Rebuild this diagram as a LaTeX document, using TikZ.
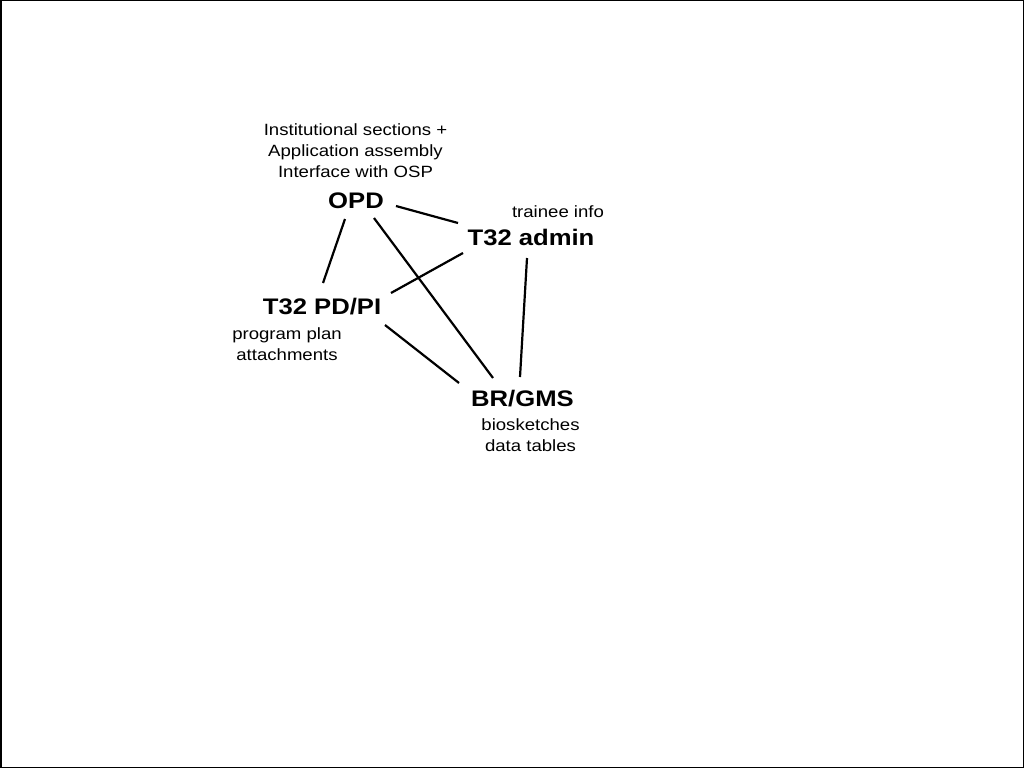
\documentclass[tikz,border=0pt]{standalone}
\usepackage{fontspec}
\setmainfont{Liberation Sans}[FakeStretch=1.14]
\usetikzlibrary{calc,positioning}

\begin{document}
\begin{tikzpicture}[x=1pt,y=-1pt,
  role/.style={anchor=base, inner sep=0pt, font=\fontsize{22.5}{27}\selectfont\bfseries},
  duty/.style={anchor=base, inner sep=0pt, align=center, font=\fontsize{16.3}{21}\selectfont},
  link/.style={line width=2.2pt}
]
  \useasboundingbox (0,0) rectangle (1024,768);
  \draw [line width=1.5pt] (0.75,0.75) rectangle (1023.25,767.25);

  % people / offices
  \node [role] at(356,208.3) (opd) {OPD};
  \node [role] at(531,245.3) (admin) {T32 admin};
  \node [role] at(322,314) (pdpi) {T32 PD/PI};
  \node [role] at(522.5,406.7) (brgms) {BR/GMS};

  % what each one does (base = last line)
  \node [duty] at(355.5,177) (inst) {Institutional sections +\\Application assembly\\Interface with OSP};
  \node [duty] at(558,217.7) (trainee) {trainee info};
  \node [duty] at(287,360.5) (plan) {program plan\\attachments};
  \node [duty] at(530.5,451) (sketches) {biosketches\\data tables};

  \draw [link] ($(opd.base) + (40,-2.3)$) -- ($(admin.base) + (-73,-22.3)$);
  \draw [link] ($(opd.base) + (-11,10.7)$) -- ($(pdpi.base) + (1,-31)$);
  \draw [link] ($(opd.base) + (18,9.7)$) -- ($(brgms.base) + (-29.5,-28.7)$);
  \draw [link] ($(admin.base) + (-68,7.7)$) -- ($(pdpi.base) + (69,-21)$);
  \draw [link] ($(admin.base) + (-4,12.7)$) -- ($(brgms.base) + (-2.5,-29.7)$);
  \draw [link] ($(pdpi.base) + (63,11)$) -- ($(brgms.base) + (-63.5,-23.7)$);

\end{tikzpicture}
\end{document}
